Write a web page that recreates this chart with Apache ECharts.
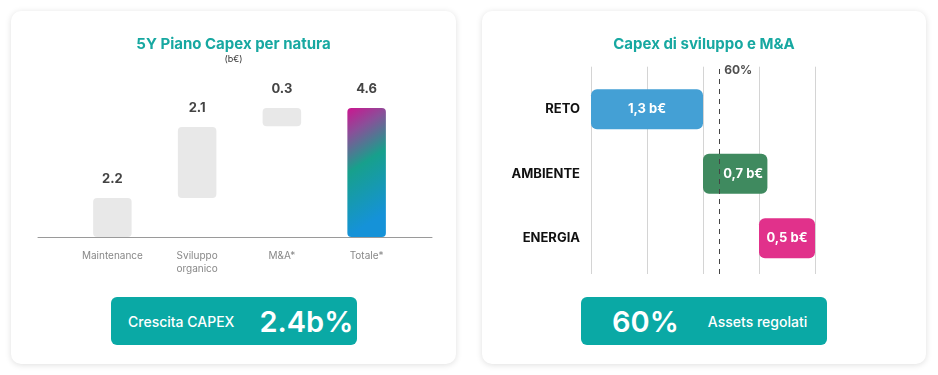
<!DOCTYPE html>
<html>

<head>
    <meta charset="UTF-8" />
    <title>Capex</title>
    <script src="https://cdn.jsdelivr.net/npm/echarts@6/dist/echarts.min.js"></script>
    <style>
        body {
            margin: 0;
            width: 938px;
            height: 375px;
            background: #ffffff;
            font-family: Inter, "Noto Sans", sans-serif;
            position: relative;
            overflow: hidden;
        }

        .card {
            position: absolute;
            top: 11px;
            height: 353px;
            background: #fff;
            border-radius: 10px;
            box-shadow: 0 1px 6px rgba(0, 0, 0, 0.13);
        }

        .chart {
            position: absolute;
            left: 0;
            top: 0;
            width: 100%;
            height: 100%;
        }

        .box {
            position: absolute;
            top: 286px;
            width: 246px;
            height: 48px;
            border-radius: 6px;
            background: #0aa9a5;
            color: #fff;
            display: flex;
            align-items: center;
        }

        .small {
            font-size: 14px;
            font-weight: 500;
        }

        .big {
            font-size: 29px;
            font-weight: 600;
        }
    </style>
</head>

<body>
    <div class="card" style="left:11px;width:445px;">
        <div id="left" class="chart"></div>
        <div class="box" style="left:100px;">
            <span class="small" style="margin-left:17px;">Crescita CAPEX</span>
            <span class="big" style="margin-left:25px;">2.4b%</span>
        </div>
    </div>
    <div class="card" style="left:482px;width:444px;">
        <div id="right" class="chart"></div>
        <div class="box" style="left:99px;">
            <span class="big" style="margin-left:31px;">60%</span>
            <span class="small" style="margin-left:29px;">Assets regolati</span>
        </div>
    </div>
</body>
<script type="text/javascript">
    // ---- pannello sinistro: piano capex per natura (b€) ----
    var natCategorie = ['Maintenance', 'Sviluppo\norganico', 'M&A*', 'Totale*'];
    var natValori = ['2.2', '2.1', '0.3', '4.6'];      // etichette mostrate
    var natBase = [0, 1.39, 3.95, 0];                  // inizio barra
    var natAltezza = [1.39, 2.53, 0.65, 4.6];          // lunghezza barra

    // ---- pannello destro: capex di sviluppo e M&A ----
    var segCategorie = ['RETO', 'AMBIENTE', 'ENERGIA'];
    var segEtichette = ['1,3 b€', '0,7 b€', '0,5 b€'];
    var segInizio = [0, 2, 3];
    var segLunghezza = [2, 1.15, 1];
    var segColori = ['#44a0d5', '#3f8a5f', '#e1318b'];
    var quotaPos = 2.29;
    var quotaTesto = '60%';

    var teal = '#17a8a1';
    var font = 'Inter';

    var leftChart = echarts.init(document.getElementById('left'));
    // gradiente diagonale della barra Totale
    var totaleGrad = new echarts.graphic.LinearGradient(0, 0, 1.6, 0.75, [
        { offset: 0, color: '#cc1590' },
        { offset: 0.2, color: '#8a4f99' },
        { offset: 0.48, color: '#17a08c' },
        { offset: 0.95, color: '#1592d8' }
    ]);
    leftChart.setOption({
        animation: false,
        textStyle: { fontFamily: font },
        title: [
            {
                text: '5Y Piano Capex per natura', left: 'center', top: 21,
                textStyle: { color: teal, fontSize: 15, fontWeight: 'bold', fontFamily: font }
            },
            {
                text: '(b€)', left: 'center', top: 39,
                textStyle: { color: '#333', fontSize: 9, fontWeight: 'normal', fontFamily: font }
            }
        ],
        grid: [
            { left: 59, right: 47, top: 97, bottom: 127 },
            { left: 27, right: 24, top: 97, bottom: 127 }
        ],
        xAxis: [
            {
                type: 'category', gridIndex: 0, data: natCategorie,
                axisLine: { show: false }, axisTick: { show: false },
                axisLabel: { color: '#888', fontSize: 10, lineHeight: 13, margin: 12, fontFamily: font }
            },
            {
                type: 'category', gridIndex: 1, data: [''],
                axisLine: { show: true, lineStyle: { color: '#9a9a9a', width: 1 } },
                axisTick: { show: false }, axisLabel: { show: false }
            }
        ],
        yAxis: [
            { type: 'value', gridIndex: 0, min: 0, max: 4.6, show: false },
            { type: 'value', gridIndex: 1, min: 0, max: 1, show: false }
        ],
        series: [
            {
                type: 'bar', stack: 'n', data: natBase, barWidth: 38.5,
                itemStyle: { color: 'transparent' }, silent: true
            },
            {
                type: 'bar', stack: 'n', barWidth: 38.5,
                data: natAltezza.map(function (v, i) {
                    return {
                        value: v,
                        itemStyle: { color: i === 3 ? totaleGrad : '#e8e8e8', borderRadius: 4 }
                    };
                }),
                label: {
                    show: true, position: 'top', distance: 12,
                    color: '#444', fontSize: 13, fontWeight: 'bold', fontFamily: font,
                    formatter: function (p) { return natValori[p.dataIndex]; }
                }
            }
        ]
    });

    var rightChart = echarts.init(document.getElementById('right'));
    rightChart.setOption({
        animation: false,
        textStyle: { fontFamily: font },
        title: {
            text: 'Capex di sviluppo e M&A', left: 'center', top: 21,
            textStyle: { color: teal, fontSize: 15, fontWeight: 'bold', fontFamily: font }
        },
        grid: [
            { left: 109, right: 111, top: 66, bottom: 93.5 },
            { left: 109, right: 111, top: 55.7, bottom: 90 }
        ],
        xAxis: [
            { type: 'value', gridIndex: 0, min: 0, max: 4, interval: 1, show: false },
            {
                type: 'value', gridIndex: 1, min: 0, max: 4, interval: 1,
                axisLine: { show: false }, axisTick: { show: false }, axisLabel: { show: false },
                splitLine: { show: true, lineStyle: { color: '#d4d4d4', width: 1 } }
            }
        ],
        yAxis: [
            {
                type: 'category', gridIndex: 0, data: segCategorie, inverse: true,
                axisLine: { show: false }, axisTick: { show: false },
                axisLabel: { color: '#111', fontSize: 13, fontWeight: 'bold', margin: 11, fontFamily: font }
            },
            { type: 'value', gridIndex: 1, min: 0, max: 1, show: false }
        ],
        series: [
            {
                type: 'bar', stack: 's', data: segInizio, barWidth: 40,
                itemStyle: { color: 'transparent' }, silent: true
            },
            {
                type: 'bar', stack: 's', barWidth: 40,
                data: segLunghezza.map(function (v, i) {
                    return {
                        value: v,
                        itemStyle: { color: segColori[i], borderRadius: 6 },
                        label: i === 1 ? { offset: [8, 0] } : {}
                    };
                }),
                label: {
                    show: true, position: 'inside',
                    color: '#fff', fontSize: 13, fontWeight: 'bold', fontFamily: font,
                    formatter: function (p) { return segEtichette[p.dataIndex]; }
                }
            },
            {
                type: 'scatter', xAxisIndex: 1, yAxisIndex: 1, z: 10,
                symbolSize: 0,
                data: [[quotaPos, 0.984]],
                label: {
                    show: true, position: 'right', distance: 5,
                    color: '#222', fontSize: 12, fontWeight: 'bold', fontFamily: font,
                    formatter: quotaTesto
                },
                markLine: {
                    silent: true, symbol: 'none',
                    label: { show: false },
                    lineStyle: { color: '#444', type: [5, 5], width: 1 },
                    data: [{ xAxis: quotaPos }]
                }
            }
        ]
    });
</script>

</html>
